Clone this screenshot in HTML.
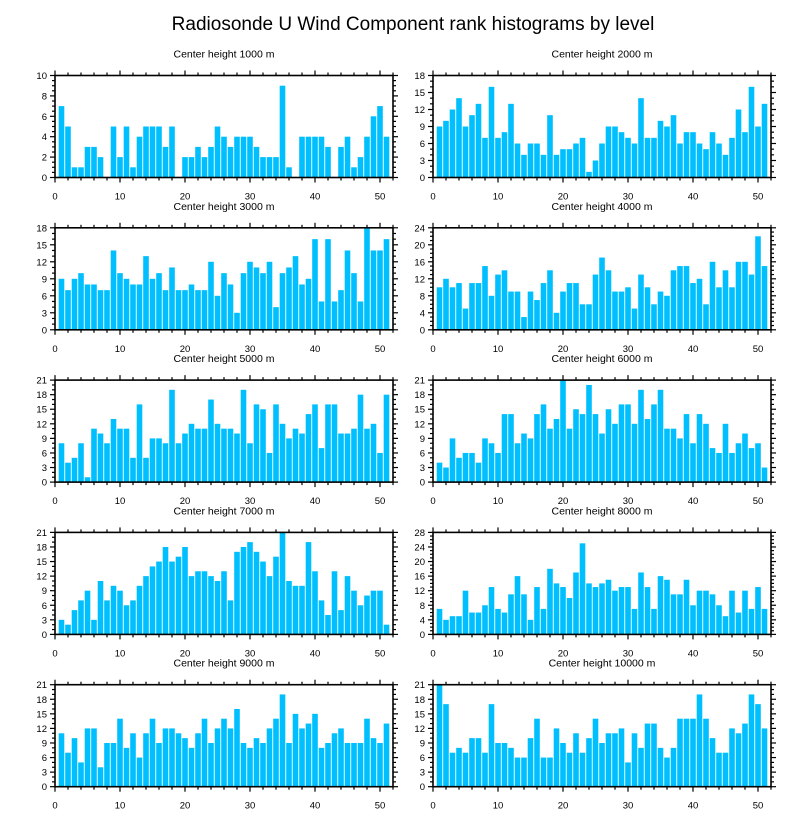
<!DOCTYPE html>
<html><head><meta charset="utf-8">
<style>
html,body{margin:0;padding:0;background:#fff;}
svg{display:block;font-family:"Liberation Sans",Arial,sans-serif;}
</style></head>
<body>
<svg id="chart" width="810" height="824" viewBox="0 0 810 824" xmlns="http://www.w3.org/2000/svg">
<text x="413" y="30" font-size="19" text-anchor="middle" fill="#000">Radiosonde U Wind Component rank histograms by level</text>
</svg>
<script>
const levelTitles = ["Center height 1000 m","Center height 2000 m","Center height 3000 m","Center height 4000 m","Center height 5000 m","Center height 6000 m","Center height 7000 m","Center height 8000 m","Center height 9000 m","Center height 10000 m"];
const xTicks = [0,10,20,30,40,50];
const yMax = [10,18,18,24,21,21,21,28,21,21];
const yStep = [2,3,3,4,3,3,3,4,3,3];
const h1000 = [7,5,1,1,3,3,2,0,5,2,5,1,4,5,5,5,3,5,0,2,2,3,2,3,5,4,3,4,4,4,3,2,2,2,9,1,0,4,4,4,4,3,0,3,4,1,2,4,6,7,4];
const h2000 = [9,10,12,14,9,11,13,7,16,7,8,13,6,4,6,6,4,11,4,5,5,6,7,1,3,6,9,9,8,7,6,14,7,7,10,9,11,6,8,8,6,5,8,6,4,7,12,8,16,9,13];
const h3000 = [9,7,9,10,8,8,7,7,14,10,9,8,8,13,9,10,7,11,7,7,8,7,7,12,6,10,8,3,10,12,11,10,12,4,10,11,13,8,9,16,5,16,5,7,14,10,5,18,14,14,16];
const h4000 = [10,12,10,11,5,11,11,15,8,13,14,9,9,3,9,7,11,14,4,9,11,11,6,6,13,17,14,9,9,10,5,13,10,6,9,8,14,15,15,11,12,6,16,10,14,10,16,16,13,22,15];
const h5000 = [8,4,5,8,1,11,10,8,13,11,11,5,16,5,9,9,8,19,8,10,12,11,11,17,12,11,11,10,19,8,16,15,6,16,12,9,11,10,14,16,7,16,16,10,10,11,18,11,12,6,18];
const h6000 = [4,3,9,5,6,6,4,9,8,6,14,14,8,10,9,14,16,11,13,21,11,15,14,20,14,10,15,12,16,16,12,19,13,16,19,11,11,9,14,8,14,12,7,6,12,6,8,10,7,8,3];
const h7000 = [3,2,5,7,9,3,11,7,10,9,6,7,10,12,14,15,18,15,16,18,12,13,13,12,11,13,7,17,18,19,17,15,12,16,21,11,10,10,19,13,7,4,13,5,12,9,6,8,9,9,2];
const h8000 = [7,4,5,5,12,6,6,8,13,7,6,11,16,11,4,13,7,18,14,13,10,17,25,14,13,14,15,12,13,13,7,17,13,7,16,15,11,11,15,8,12,12,11,8,5,12,6,12,7,13,7];
const h9000 = [11,7,10,5,12,12,4,9,9,14,8,11,6,11,14,9,12,12,11,10,8,11,14,9,12,14,12,16,9,8,10,9,12,14,19,9,15,12,13,15,8,9,11,12,9,9,9,14,10,9,13];
const h10000 = [21,17,7,8,7,10,10,7,17,9,9,8,6,6,10,14,6,6,12,9,7,11,7,10,14,9,11,11,12,5,11,8,13,13,8,6,8,14,14,14,19,14,10,7,7,12,11,13,19,17,12];
const seriesList = [h1000,h2000,h3000,h4000,h5000,h6000,h7000,h8000,h9000,h10000];

const svg = document.getElementById('chart');
const NS = 'http://www.w3.org/2000/svg';
function mk(tag, attrs, parent){
  const e = document.createElementNS(NS, tag);
  for (const k in attrs) e.setAttribute(k, attrs[k]);
  parent.appendChild(e);
  return e;
}
const colX = [55, 433];
const plotW = 338, plotH = 102;
const xMin = 0, xMaxV = 52;

seriesList.forEach((vals, p) => {
  const col = p % 2, row = Math.floor(p / 2);
  const left = colX[col], top = 75.5 + row * 152.3;
  const g = mk('g', {}, svg);
  
  
  const xs = v => left + (v - xMin) / (xMaxV - xMin) * plotW;
  const ys = v => top + plotH - v / yMax[p] * plotH;

  const t = mk('text', {x: left + plotW / 2, y: top - 18, 'font-size': 10.5, 'text-anchor': 'middle', fill: '#000'}, g);
  
  
  t.textContent = levelTitles[p];

  const bw = (xs(1) - xs(0)) * 0.86;
  vals.forEach((v, i) => {
    const cx = xs(i + 1);
    const r = mk('rect', {x: cx - bw / 2, y: ys(v), width: bw, height: ys(0) - ys(v), fill: '#00bfff'}, g);
    
    
  });

  const tk = mk('g', {stroke: '#000', 'stroke-width': 1.2}, g);
  
  
  for (let v = 0; v <= 52; v += 2) {
    const major = v % 10 === 0;
    const L = major ? 5 : 3;
    const x = xs(v);
    mk('line', {x1: x, x2: x, y1: top + plotH, y2: top + plotH + L}, tk);
    mk('line', {x1: x, x2: x, y1: top, y2: top - L}, tk);
  }
  const minor = yStep[p] / (yStep[p] === 3 ? 3 : 4);
  for (let v = 0; v <= yMax[p] + 1e-6; v += minor) {
    const major = Math.abs(v / yStep[p] - Math.round(v / yStep[p])) < 1e-6;
    const L = major ? 5 : 3;
    const y = ys(v);
    mk('line', {x1: left, x2: left - L, y1: y, y2: y}, tk);
    mk('line', {x1: left + plotW, x2: left + plotW + L, y1: y, y2: y}, tk);
  }
  const fr = mk('rect', {x: left, y: top, width: plotW, height: plotH, fill: 'none', stroke: '#000', 'stroke-width': 1.6}, g);
  
  

  xTicks.forEach(v => {
    const l = mk('text', {x: xs(v), y: top + plotH + 22, 'font-size': 9.5, 'text-anchor': 'middle', fill: '#000'}, g);
    
    
    l.textContent = v;
  });
  for (let v = 0; v <= yMax[p]; v += yStep[p]) {
    const l = mk('text', {x: left - 8, y: ys(v) + 3.5, 'font-size': 9.5, 'text-anchor': 'end', fill: '#000'}, g);
    
    
    l.textContent = v;
  }
});
</script>
</body></html>
